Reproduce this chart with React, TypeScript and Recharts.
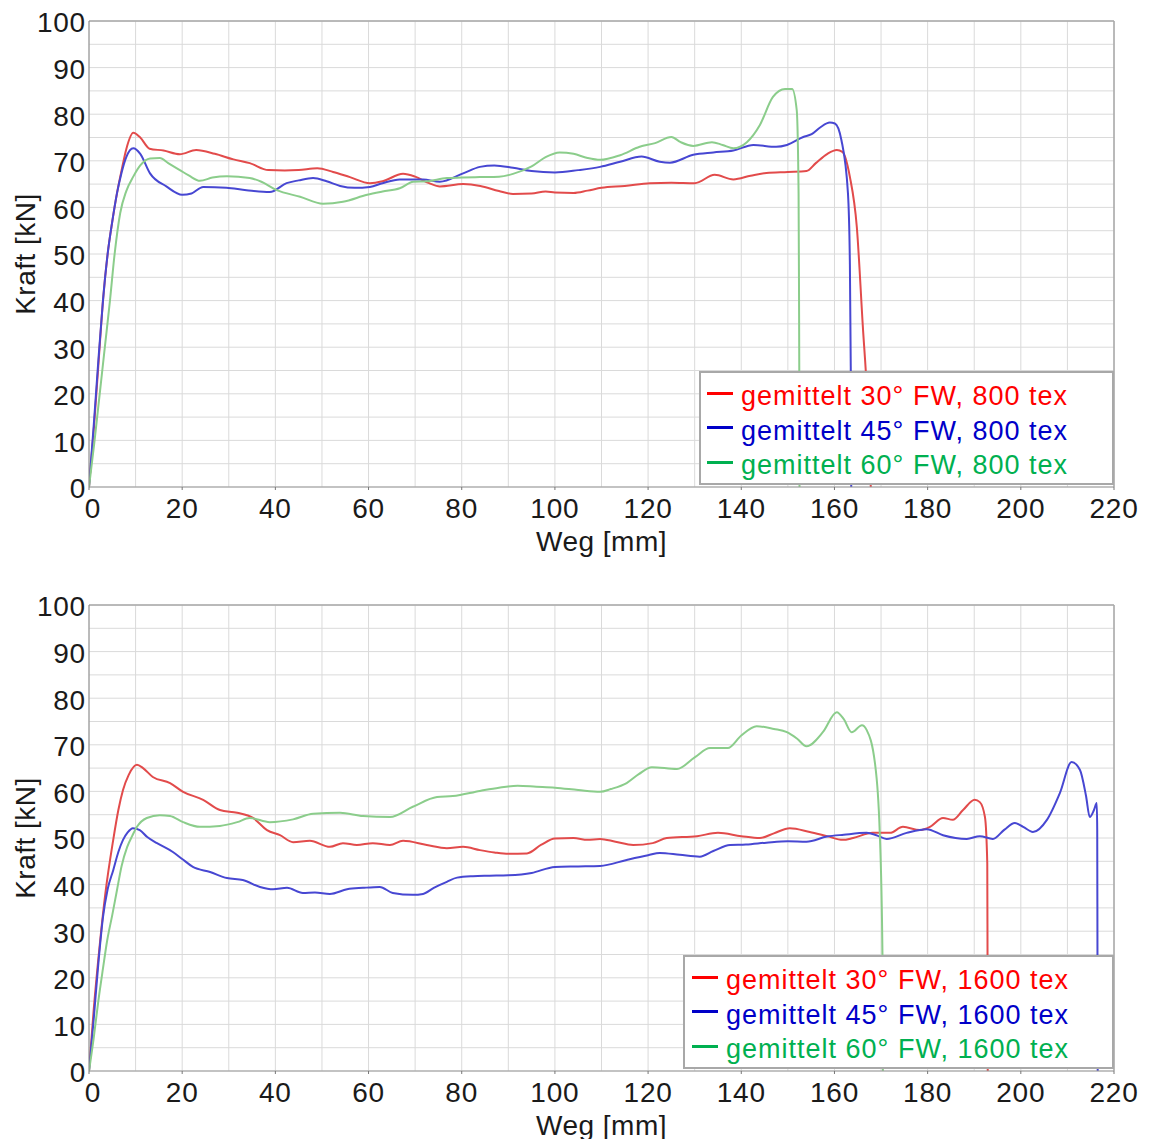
import React from "react";
import {
  LineChart,
  Line,
  XAxis,
  YAxis,
  CartesianGrid,
  ReferenceLine,
  Legend,
} from "recharts";

// Weg [mm], Kraft [kN] pairs
const red800 = [
  [0, 0], [1, 12], [2, 26], [3, 40], [4, 50], [5, 57], [6, 63], [7, 68], [8, 72.5], [9.5, 76],
  [11, 75], [13, 72.6], [16, 72.2], [19.5, 71.4], [23, 72.3], [27, 71.5], [31, 70.3], [34.5, 69.5],
  [38.5, 68], [42, 67.9], [45, 68], [49, 68.4], [52.4, 67.6], [56, 66.5], [60.3, 65.2], [63, 65.6],
  [67.4, 67.2], [70, 66.6], [73, 65.2], [75.3, 64.5], [80.3, 65], [84, 64.6], [88, 63.5], [91, 62.9],
  [95, 63], [98, 63.4], [100, 63.2], [104, 63.1], [107, 63.6], [110, 64.2], [115, 64.6], [120.4, 65.2],
  [125, 65.3], [130, 65.2], [134.3, 67], [138.3, 66], [142, 66.8], [145.4, 67.4], [150, 67.6],
  [154, 67.8], [156, 69.5], [158.5, 71.5], [160.5, 72.3], [161.7, 71.9], [163.3, 66.6], [164.8, 55.8],
  [166.1, 34.3], [167, 20], [167.8, 0],
];
const blue800 = [
  [0, 0], [1, 13], [2, 27], [3, 40], [4, 50], [5, 57], [6, 63], [7, 67.5], [8, 70.8], [9.5, 72.7],
  [11, 71.5], [13.1, 67.3], [16.6, 64.5], [20, 62.7], [22, 63], [24.5, 64.4], [29.5, 64.2],
  [33.8, 63.7], [38.8, 63.3], [42.4, 65.2], [45, 65.8], [48.1, 66.3], [51, 65.6], [53.9, 64.6],
  [57, 64.2], [60.3, 64.4], [63, 65.2], [66.7, 66], [71.7, 66], [75.3, 65.5], [80.3, 67.3],
  [83.9, 68.7], [87, 69], [91, 68.5], [95, 67.8], [100, 67.5], [105, 68], [109.7, 68.7], [114, 69.8],
  [118.6, 70.9], [122.5, 69.8], [124.7, 69.6], [129.7, 71.3], [134, 71.8], [138.3, 72.2],
  [142.6, 73.4], [147.5, 73], [149.8, 73.4], [153.3, 75.1], [155.1, 75.7], [157, 77.2], [159, 78.2],
  [160.1, 78], [161.5, 74.4], [162.9, 63], [163.3, 48.7], [163.5, 25.8], [163.6, 0],
];
const green800 = [
  [0, 0], [1.2, 10], [2.3, 20], [3.4, 30], [4.5, 40], [5.5, 50], [6.7, 58.8], [8, 63.5], [9.5, 66.6],
  [11, 69], [13.1, 70.5], [15.2, 70.6], [17, 69.5], [19.5, 68], [21.5, 66.8], [23.8, 65.7],
  [26.5, 66.4], [29.6, 66.7], [34.5, 66.3], [37, 65.5], [40.3, 63.7], [45.3, 62.3], [50.2, 60.8],
  [54.5, 61.2], [59.7, 62.7], [63, 63.4], [66.7, 64.1], [69.6, 65.5], [72.5, 65.6], [76.8, 66.3],
  [80, 66.4], [83.9, 66.5], [88, 66.6], [91, 67.2], [95, 68.8], [98, 70.8], [101, 71.8], [104, 71.5],
  [107, 70.6], [109.7, 70.2], [114, 71.2], [118.2, 73], [121.5, 73.8], [125, 75.1], [127, 74],
  [129.7, 73.2], [133.7, 74], [136, 73.4], [138.3, 72.7], [141.2, 74], [144, 77.7], [146.8, 83.7],
  [149.4, 85.4], [150.9, 85.4], [151.9, 80.9], [152.3, 63], [152.4, 40], [152.45, 25], [152.5, 0],
];

const red1600 = [
  [0, 0], [1, 13], [2.4, 28], [3.5, 38], [5.2, 49.6], [6.3, 56], [7.3, 60.3], [8.5, 63.5],
  [10.3, 65.7], [11.6, 65], [13.7, 63.1], [17.4, 61.8], [20.2, 59.9], [24.5, 58.2], [28.1, 56],
  [31.8, 55.4], [35.2, 54.3], [38.2, 51.7], [41, 50.6], [43.8, 49.1], [47.4, 49.4], [51.7, 48.1],
  [54.5, 48.9], [57.5, 48.5], [60.9, 48.9], [64.6, 48.5], [67.4, 49.4], [72.5, 48.5], [76.8, 47.8],
  [80.3, 48.1], [83.9, 47.4], [87, 46.9], [90, 46.6], [94, 46.7], [97, 48.5], [100, 49.9], [104, 50],
  [107, 49.6], [109.7, 49.8], [113, 49.2], [116.8, 48.5], [121, 48.9], [124, 50], [130.5, 50.4],
  [135, 51.1], [140, 50.4], [144, 50], [147, 51], [150.4, 52.1], [154.7, 51.3], [158.4, 50.4],
  [161.8, 49.6], [164, 50], [168.2, 51.1], [171.9, 51.1], [174.7, 52.4], [178.3, 51.7], [180.5, 52.4],
  [183.3, 54.3], [185.4, 53.9], [187.6, 56], [190.1, 58.2], [191.2, 57.7], [192.3, 54.5],
  [192.8, 44.6], [192.85, 26.6], [192.9, 0],
];
const blue1600 = [
  [0, 0], [1, 11], [2, 23], [3, 33], [4, 39], [5.2, 43.1], [6.3, 47], [7.3, 49.6], [8.3, 51.2],
  [9.4, 52.1], [10.9, 51.7], [12.5, 50.2], [14.6, 48.9], [18, 47], [20, 45.5], [22.3, 43.8],
  [26, 42.7], [29.6, 41.4], [33, 41], [36.7, 39.5], [39.5, 39], [42.5, 39.3], [45.9, 38.2],
  [48.5, 38.3], [51.7, 38], [55.4, 39], [58.8, 39.3], [62.4, 39.5], [65.2, 38.2], [69.5, 37.8],
  [71.7, 38], [74, 39.3], [76.8, 40.6], [79, 41.5], [82.4, 41.8], [86, 41.9], [90, 42], [95, 42.5],
  [100, 43.8], [105, 43.9], [109.7, 44], [115.4, 45.3], [120, 46.3], [122.5, 46.8], [126.8, 46.4],
  [131.1, 46], [134, 47.2], [137.6, 48.5], [141, 48.6], [145.4, 49], [150, 49.3], [154, 49.2],
  [158.4, 50.3], [162, 50.7], [166.9, 51.1], [169, 50.6], [171.2, 49.8], [175.5, 51.1],
  [179.8, 51.9], [183.3, 50.6], [188.4, 49.8], [191.2, 50.4], [194, 49.8], [196.5, 51.8],
  [198.7, 53.2], [200.5, 52.4], [202.6, 51.3], [205.6, 53.9], [208.4, 59.7], [210.9, 66.3],
  [212.7, 64.6], [214, 59], [214.8, 54.5], [215.7, 56], [216.3, 57.5], [216.4, 51.7],
  [216.45, 25.3], [216.5, 0],
];
const green1600 = [
  [0, 0], [1, 7], [2, 15], [3, 22], [3.9, 28], [5, 33.5], [6, 38.8], [7, 44], [8.2, 48.1],
  [9.3, 50.5], [10.3, 52.4], [12.4, 54.3], [15.2, 54.9], [17.4, 54.7], [20.2, 53.4], [23.8, 52.4],
  [28.1, 52.6], [31.8, 53.4], [34.5, 54.3], [38.8, 53.4], [43.8, 54], [48.1, 55.2], [53.9, 55.4],
  [58.8, 54.7], [64.6, 54.5], [69.5, 56.7], [74.7, 58.8], [78.1, 59], [83.9, 60.1], [88, 60.8],
  [92, 61.2], [96, 61], [100, 60.8], [105, 60.3], [109.7, 59.9], [112, 60.5], [115.4, 61.8],
  [118, 63.7], [120.8, 65.2], [126.2, 64.8], [130, 67.3], [133.3, 69.3], [137.1, 69.3], [140, 72],
  [143.3, 74], [147, 73.4], [149.8, 72.7], [152, 71.3], [154, 69.7], [157.5, 72.7], [160.5, 77],
  [162, 75.5], [163.7, 72.7], [165.9, 74.2], [166.9, 73.2], [168.7, 66], [169.7, 51.7],
  [170.3, 25.3], [170.4, 0],
];

const xTicks = [0, 20, 40, 60, 80, 100, 120, 140, 160, 180, 200, 220];
const yTicks = [0, 10, 20, 30, 40, 50, 60, 70, 80, 90, 100];
const xGrid = [0, 10, 20, 30, 40, 50, 60, 70, 80, 90, 100, 110, 120, 130, 140, 150, 160, 170, 180, 190, 200, 210, 220];
const yGrid = [0, 5, 10, 15, 20, 25, 30, 35, 40, 45, 50, 55, 60, 65, 70, 75, 80, 85, 90, 95, 100];

const angles = ["30°", "45°", "60°"];
const lineColors = ["#e24b4b", "#4747d2", "#8bcd8b"];
const legendColors = ["#ff0000", "#0000c8", "#00b050"];

const FONT = '"Liberation Sans", Arial, sans-serif';

type Pair = number[];

interface ForceChartProps {
  series: Pair[][];
  tex: string;
  height: number;
  legendLeft: number;
}

const toPoints = (pairs: Pair[]) => pairs.map(([x, y]) => ({ x, y }));

// x tick label; the "0" sits a little right of the axis like in the original
function XTick(props: any) {
  const { x, y, payload } = props;
  const shift = payload.value === 0 ? 4 : 0;
  return (
    <text
      x={x + shift}
      y={y}
      dy="0.71em"
      textAnchor="middle"
      fontSize={28}
      fill="#1a1a1a"
      letterSpacing={0.8}
    >
      {payload.value}
    </text>
  );
}

function LegendBox({ tex, swatchLeft }: { tex: string; swatchLeft: number }) {
  return (
    <div
      style={{
        background: "#fff",
        border: "2px solid #a8a8a8",
        boxSizing: "border-box",
        height: 114,
        paddingTop: 6,
        fontFamily: FONT,
        fontSize: 27,
        letterSpacing: 1,
      }}
    >
      {angles.map((a, i) => (
        <div key={a} style={{ display: "flex", alignItems: "center", height: 34.5 }}>
          <span
            style={{
              display: "inline-block",
              width: 26,
              height: 3,
              background: legendColors[i],
              marginLeft: swatchLeft,
              marginRight: 8,
              marginTop: -6,
            }}
          />
          <span style={{ color: legendColors[i], lineHeight: "30px" }}>
            gemittelt {a} FW, {tex} tex
          </span>
        </div>
      ))}
    </div>
  );
}

function ForceChart({ series, tex, height, legendLeft }: ForceChartProps) {
  const bottom = height - 487;
  return (
    <LineChart
      width={1151}
      height={height}
      margin={{ top: 21, right: 37, left: 0, bottom: bottom - 70 }}
      style={{ fontFamily: FONT }}
    >
      <CartesianGrid
        stroke="#dadada"
        strokeWidth={1}
        horizontalValues={yGrid}
        verticalValues={xGrid}
      />
      <XAxis
        type="number"
        dataKey="x"
        domain={[0, 220]}
        ticks={xTicks}
        allowDataOverflow
        height={70}
        stroke="#999"
        tickLine={{ stroke: "#777" }}
        tickSize={3}
        tickMargin={8}
        tick={<XTick />}
        label={{
          value: "Weg [mm]",
          position: "insideBottom",
          offset: 6,
          style: { fontSize: 28, fill: "#1a1a1a", letterSpacing: 0.5 },
        }}
      />
      <YAxis
        type="number"
        dataKey="y"
        domain={[0, 100]}
        ticks={yTicks}
        allowDataOverflow
        width={89}
        stroke="#888"
        tickLine={false}
        tickSize={3}
        tickMargin={0}
        tick={{ fontSize: 28, fill: "#1a1a1a", letterSpacing: 0.8, dy: 1.5 }}
        label={{
          value: "Kraft [kN]",
          angle: -90,
          position: "insideLeft",
          offset: 25,
          style: { fontSize: 28, fill: "#1a1a1a", textAnchor: "middle", letterSpacing: 0.5 },
        }}
      />
      <ReferenceLine y={100} stroke="#a8a8a8" strokeWidth={1.5} />
      <ReferenceLine x={220} stroke="#a8a8a8" strokeWidth={1.5} />
      {series.map((pairs, i) => (
        <Line
          key={angles[i]}
          data={toPoints(pairs)}
          dataKey="y"
          name={`gemittelt ${angles[i]} FW, ${tex} tex`}
          type="monotone"
          stroke={lineColors[i]}
          strokeWidth={2}
          dot={false}
          isAnimationActive={false}
        />
      ))}
      <Legend
        layout="vertical"
        align="center"
        verticalAlign="middle"
        wrapperStyle={{ left: legendLeft, top: 371, width: 1114 - legendLeft }}
        content={() => <LegendBox tex={tex} swatchLeft={legendLeft === 699 ? 6 : 7} />}
      />
    </LineChart>
  );
}

export default function App() {
  return (
    <div style={{ position: "absolute", left: 0, top: 0, width: 1151, height: 1139, background: "#fff" }}>
      <div style={{ position: "absolute", left: 0, top: 0 }}>
        <ForceChart series={[red800, blue800, green800]} tex="800" height={584} legendLeft={699} />
      </div>
      <div style={{ position: "absolute", left: 0, top: 584 }}>
        <ForceChart series={[red1600, blue1600, green1600]} tex="1600" height={555} legendLeft={683} />
      </div>
    </div>
  );
}
